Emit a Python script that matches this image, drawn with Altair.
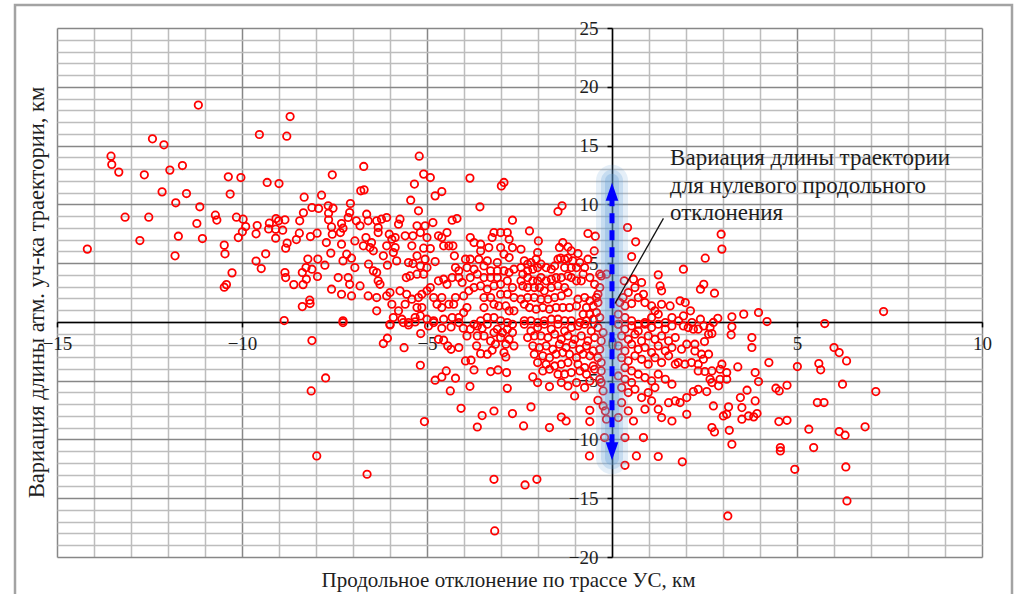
import altair as alt
import pandas as pd

# Scatter of trajectory-length variation vs. along-track deviation (km)
# Points grouped by the part of the field they fall in.

far_west = [
    (-11.18, 18.44), (-8.70, 17.47), (-9.53, 15.94), (-8.79, 15.80), (-12.42, 15.57), (-12.11, 15.06),
    (-13.54, 14.10), (-13.52, 13.39), (-13.33, 12.74), (-12.64, 12.51), (-11.95, 12.91), (-11.61, 13.30),
    (-10.37, 12.34), (-10.03, 12.28), (-9.32, 11.86), (-9.00, 11.77), (-12.16, 11.06), (-11.50, 10.92),
    (-10.32, 10.87), (-11.79, 10.13), (-11.14, 9.79), (-8.32, 10.61), (-7.85, 10.78), (-13.16, 8.91),
    (-12.52, 8.91), (-10.72, 9.08), (-10.68, 8.66), (-10.15, 8.91), (-9.97, 8.74), (-8.11, 9.73),
    (-7.93, 9.65), (-11.22, 8.37), (-9.90, 8.11), (-9.59, 8.20), (-9.26, 8.40), (-9.08, 8.79),
    (-9.01, 8.60), (-8.84, 8.68), (-9.28, 7.91), (-9.09, 7.89), (-8.90, 7.80), (-9.99, 7.66),
    (-9.62, 7.49), (-8.44, 8.60), (-8.34, 9.28), (-7.66, 9.25), (-7.66, 8.68), (-8.45, 7.55),
    (-8.15, 7.26), (-7.97, 7.55), (-8.53, 7.00), (-12.76, 6.92), (-11.72, 7.29), (-11.07, 7.09),
    (-10.10, 7.17), (-9.09, 7.12), (-8.78, 6.70), (-8.82, 6.27), (-10.48, 6.53), (-10.46, 5.79),
    (-14.18, 6.19), (-11.81, 5.62), (-7.60, 5.85), (-9.36, 5.79), (-9.62, 5.17), (-9.48, 4.54),
    (-8.22, 5.34), (-7.95, 5.34), (-7.76, 4.82), (-8.27, 4.62), (-8.11, 4.48), (-8.37, 4.20),
    (-7.96, 3.86), (-8.26, 3.63), (-8.84, 4.20), (-8.82, 3.77), (-10.27, 4.17), (-8.60, 3.17),
    (-8.35, 3.17), (-10.48, 2.95), (-10.42, 3.17), (-8.17, 1.85), (-8.86, 0.11), (-8.37, 1.30),
    (-8.16, 1.56), (-8.11, -1.59), (-7.74, -4.77), (-8.13, -5.87), (-7.98, -11.40),
]

west = [
    (-7.56, 12.51), (-5.09, 12.57), (-4.91, 12.28), (-3.84, 12.23), (-2.99, 11.57), (-2.92, 11.86),
    (-5.34, 11.72), (-6.79, 11.15), (-6.70, 11.23), (-4.78, 10.72), (-4.60, 11.09), (-5.44, 10.35),
    (-3.57, 9.79), (-7.07, 10.07), (-7.54, 9.67), (-7.67, 9.87), (-7.09, 9.30), (-6.63, 9.16),
    (-6.59, 8.60), (-7.13, 8.88), (-5.23, 9.45), (-4.19, 8.79), (-4.32, 8.65), (-4.84, 8.45),
    (-2.69, 8.65), (-5.73, 8.74), (-5.77, 8.31), (-6.09, 8.88), (-6.23, 8.74), (-6.36, 8.60),
    (-6.91, 8.60), (-6.81, 8.17), (-7.31, 8.37), (-7.27, 7.97), (-7.58, 8.08), (-7.56, 7.46),
    (-7.34, 7.60), (-7.72, 6.75), (-7.31, 6.61), (-6.95, 6.89), (-6.65, 7.18), (-6.72, 6.47),
    (-6.54, 6.32), (-6.50, 6.75), (-6.32, 7.60), (-6.32, 8.03), (-6.02, 7.46), (-5.95, 7.03),
    (-5.86, 7.18), (-6.09, 6.47), (-5.86, 6.32), (-5.91, 5.90), (-6.18, 5.62), (-6.07, 4.82),
    (-5.82, 5.19), (-5.59, 7.32), (-5.38, 7.32), (-5.41, 6.47), (-5.18, 7.60), (-5.05, 8.17),
    (-5.27, 8.17), (-5.00, 7.18), (-4.69, 7.32), (-4.60, 7.18), (-4.46, 7.60), (-4.55, 6.47),
    (-4.41, 6.47), (-4.30, 6.47), (-4.26, 5.62), (-5.09, 6.27), (-4.91, 6.24), (-5.05, 5.33),
    (-4.78, 5.13), (-5.27, 5.62), (-5.38, 4.96), (-5.18, 4.76), (-5.50, 5.05), (-5.56, 3.77),
    (-5.46, 3.91), (-5.27, 4.06), (-5.09, 4.06), (-5.00, 4.62), (-3.83, 7.18), (-3.73, 6.75),
    (-3.55, 6.61), (-3.19, 7.60), (-3.01, 7.60), (-2.83, 7.60), (-2.78, 7.03), (-3.24, 7.18),
    (-3.33, 6.32), (-3.55, 6.04), (-3.96, 5.33), (-3.83, 5.33), (-3.60, 5.33), (-3.37, 5.19),
    (-3.10, 5.05), (-3.01, 6.32), (-2.92, 5.76), (-2.78, 5.47), (-2.69, 6.32), (-3.92, 4.62),
    (-3.73, 4.48), (-3.46, 4.76), (-3.28, 4.34), (-3.10, 4.34), (-2.92, 4.34), (-2.78, 4.20),
    (-2.65, 4.48), (-4.23, 4.62), (-4.14, 4.34), (-4.14, 3.77), (-4.05, 3.35), (-4.32, 3.77),
    (-4.46, 3.20), (-4.55, 3.63), (-4.69, 3.49), (-4.91, 2.92), (-5.00, 2.64), (-5.14, 2.35),
    (-5.23, 2.07), (-5.41, 1.93), (-5.55, 2.35), (-5.73, 2.64), (-6.00, 2.50), (-6.09, 2.21),
    (-6.27, 3.20), (-6.32, 3.49), (-6.36, 4.20), (-6.45, 4.34), (-6.81, 3.06), (-7.09, 3.20),
    (-7.13, 3.77), (-7.40, 3.77), (-7.58, 2.78), (-7.31, 2.35), (-7.04, 2.21), (-6.59, 2.21),
    (-6.36, 2.07), (-6.36, 0.94), (-5.95, 1.50), (-5.77, 0.94), (-5.68, 0.23), (-5.91, 0.37),
    (-6.00, -0.20), (-5.50, -0.06), (-5.32, 0.37), (-5.18, 0.51), (-5.00, 0.23), (-4.82, 0.09),
    (-4.55, 0.23), (-4.32, 0.37), (-4.14, 0.37), (-4.01, 0.79), (-3.92, 1.22), (-4.28, 1.50),
    (-4.23, 2.07), (-4.01, 2.21), (-3.87, 2.64), (-3.73, 2.92), (-3.55, 3.06), (-3.37, 2.78),
    (-3.19, 3.06), (-3.01, 3.20), (-2.83, 3.49), (-2.69, 2.92), (-3.83, 3.77), (-3.64, 4.06),
    (-3.46, 3.77), (-3.28, 3.77), (-3.10, 3.77), (-3.01, 2.35), (-2.83, 2.35), (-2.65, 2.07),
    (-3.46, 2.07), (-3.28, 2.07), (-3.19, 1.50), (-3.06, 1.36), (-2.87, 1.36), (-2.78, 0.94),
    (-2.65, 0.94), (-3.46, 1.22), (-3.73, -0.20), (-3.55, 0.09), (-3.37, 0.37), (-3.19, 0.37),
    (-3.01, 0.09), (-2.83, -0.06), (-2.69, -0.20), (-7.27, 0.09), (-4.82, 2.07), (-4.60, 2.07),
    (-4.73, 1.50), (-4.60, 1.22), (-4.41, 1.50), (-5.14, 1.22), (-5.27, 1.22), (-5.59, 1.50),
    (-7.27, 5.19), (-7.17, 5.76), (-7.04, 5.42), (-6.95, 4.62), (-6.45, 6.05), (-6.58, 4.91),
    (-5.21, 14.10), (-6.71, 13.22),
]

north_centre = [
    (-1.46, 9.39), (-1.35, 9.87), (-2.23, 7.74), (-1.99, 6.89), (-2.46, 6.18), (-2.01, 5.90),
    (-2.05, 5.33), (-2.19, 5.05), (-2.28, 4.91), (-2.37, 5.19), (-2.46, 4.62), (-2.41, 4.06),
    (-2.28, 4.34), (-2.14, 4.48), (-2.01, 4.62), (-1.92, 4.91), (-1.78, 4.62), (-1.64, 4.48),
    (-1.55, 4.76), (-1.46, 5.33), (-1.39, 5.42), (-1.28, 5.33), (-1.19, 5.42), (-1.06, 5.19),
    (-1.10, 4.62), (-1.28, 4.62), (-1.42, 6.33), (-1.33, 6.75), (-1.19, 6.38), (-1.10, 6.04),
    (-0.92, 5.81), (-0.87, 5.05), (-0.96, 4.62), (-0.78, 4.06), (-0.83, 3.49), (-0.96, 3.49),
    (-1.10, 3.77), (-1.19, 3.91), (-1.37, 3.77), (-1.51, 3.77), (-1.64, 3.63), (-1.78, 3.49),
    (-1.92, 3.77), (-2.01, 3.49), (-2.14, 3.49), (-2.28, 3.77), (-2.46, 3.49), (-2.41, 3.06),
    (-2.28, 2.92), (-2.10, 2.92), (-1.96, 2.92), (-1.83, 2.64), (-1.64, 2.92), (-1.46, 3.06),
    (-1.28, 2.92), (-1.19, 2.50), (-1.37, 2.21), (-1.55, 2.07), (-1.73, 1.93), (-1.92, 1.93),
    (-2.10, 2.07), (-2.28, 2.07), (-2.46, 1.93), (-2.37, 1.50), (-2.23, 1.22), (-2.05, 1.08),
    (-1.87, 1.22), (-1.69, 1.08), (-1.51, 1.22), (-1.33, 1.22), (-1.15, 1.22), (-0.96, 1.36),
    (-0.92, 1.93), (-0.74, 2.07), (-0.60, 1.79), (-0.42, 2.07), (-0.38, 1.64), (-0.51, 1.36),
    (-0.69, 1.22), (-0.78, 0.65), (-0.60, 0.65), (-0.42, 0.79), (-0.33, 0.37), (-0.51, 0.23),
    (-0.69, 0.09), (-0.87, -0.06), (-1.10, 0.09), (-1.28, 0.09), (-1.46, 0.23), (-1.64, 0.23),
    (-1.83, 0.09), (-2.01, -0.06), (-2.19, 0.09), (-2.37, 0.09), (-0.65, 7.52), (-0.45, 7.29),
    (-0.48, 6.04), (-0.65, 5.33), (-0.74, 4.62), (-0.60, 3.77), (-0.47, 3.20), (-0.33, 2.92),
    (-0.38, 2.35), (-0.29, 3.91), (-0.15, 4.06), (-0.33, 4.06), (0.42, 8.03), (0.64, 6.81),
    (0.53, 5.56), (0.33, 3.49), (0.58, 3.63), (0.80, 3.35), (0.62, 2.92), (0.44, 2.50),
    (0.30, 2.07), (0.21, 1.64), (0.35, 1.36), (0.53, 1.56), (0.71, 2.07), (0.85, 2.35),
    (0.89, 1.64), (1.07, 1.36), (1.16, 0.94), (1.07, 0.37), (0.89, -0.06), (0.71, -0.20),
    (0.53, 0.09), (0.35, 0.37), (0.17, 0.65), (0.17, -0.20), (1.44, -0.06), (1.25, 0.65),
    (1.34, 1.50), (1.57, 1.36), (1.84, 1.79), (1.98, 1.64), (2.12, 0.94), (1.93, 0.51),
    (1.80, 0.09), (1.62, 0.37), (2.16, -0.06), (2.39, 0.23), (2.48, -0.34), (1.25, 4.00),
    (1.30, 3.06), (1.34, 2.64), (1.93, 4.48), (2.39, 2.78), (2.48, 3.20), (2.52, 5.42),
    (2.95, 7.46), (2.97, 6.19), (2.77, 2.44),
]

south_west = [
    (-7.27, -0.06), (-6.00, -0.26), (-5.64, -0.06), (-5.50, -0.26), (-5.32, 0.00), (-5.17, -0.99),
    (-4.96, -0.34), (-4.82, -0.06), (-4.60, -0.54), (-4.35, -0.43), (-4.14, -0.06), (-4.02, -0.54),
    (-3.92, -1.19), (-3.83, -0.62), (-3.64, -0.34), (-3.51, -0.54), (-3.64, -1.19), (-3.37, -0.20),
    (-3.19, -0.91), (-3.10, -0.62), (-2.96, -0.91), (-2.83, -0.62), (-2.69, -0.91), (-2.78, -1.48),
    (-2.65, -2.04), (-3.01, -1.33), (-2.87, -1.90), (-3.15, -1.90), (-3.28, -1.62), (-3.46, -1.19),
    (-6.18, -1.84), (-6.07, -1.39), (-5.62, -2.19), (-4.69, -1.48), (-4.55, -1.56), (-4.44, -2.04),
    (-4.35, -2.33), (-4.14, -2.18), (-3.66, -2.04), (-3.55, -2.70), (-3.37, -2.75), (-3.24, -2.41),
    (-2.92, -2.61), (-2.87, -2.98), (-5.18, -3.69), (-3.96, -3.32), (-3.81, -3.26), (-3.73, -4.09),
    (-3.28, -4.23), (-3.08, -4.09), (-2.85, -4.31), (-4.48, -4.17), (-4.60, -4.68), (-4.78, -4.96),
    (-4.23, -4.79), (-4.37, -5.87), (-3.84, -5.48), (-2.83, -5.65), (-4.08, -7.35), (-3.51, -7.97),
    (-3.19, -7.58), (-2.69, -7.80), (-3.64, -8.94), (-5.07, -8.48), (-6.62, -12.96), (-3.19, -13.39),
    (-2.35, -13.87), (-2.03, -13.39), (-3.17, -17.78),
]

south_centre = [
    (-2.37, -0.20), (-2.19, -0.77), (-2.01, -0.48), (-1.83, -0.20), (-1.64, -0.62), (-1.46, -0.20),
    (-1.28, -0.77), (-1.10, -0.48), (-0.92, -0.34), (-0.74, -0.20), (-0.56, -0.77), (-0.38, -0.48),
    (-0.24, -0.91), (-2.28, -1.33), (-2.10, -1.19), (-1.92, -1.19), (-1.73, -1.33), (-1.55, -1.05),
    (-1.37, -1.48), (-1.19, -1.19), (-1.01, -1.48), (-0.83, -1.19), (-0.65, -1.62), (-0.47, -1.33),
    (-0.29, -1.62), (-2.14, -2.04), (-1.96, -2.18), (-1.78, -2.04), (-1.60, -2.33), (-1.42, -1.90),
    (-1.24, -2.18), (-1.06, -1.90), (-0.87, -2.33), (-0.69, -2.04), (-0.51, -2.47), (-0.33, -2.33),
    (-2.10, -2.75), (-1.87, -2.89), (-1.69, -3.04), (-1.51, -2.75), (-1.33, -2.61), (-1.15, -2.75),
    (-0.96, -3.04), (-0.78, -2.75), (-0.60, -2.89), (-0.38, -3.04), (-2.01, -3.46), (-1.78, -3.60),
    (-1.55, -3.75), (-1.37, -3.60), (-1.19, -3.46), (-0.92, -3.60), (-0.74, -3.89), (-0.51, -3.75),
    (-0.29, -3.46), (-1.87, -4.17), (-1.69, -4.03), (-1.46, -4.45), (-1.28, -4.45), (-1.10, -4.31),
    (-0.87, -4.17), (-0.69, -4.45), (-0.47, -4.03), (-0.29, -4.17), (-2.14, -4.68), (-2.01, -5.16),
    (-1.69, -5.50), (-1.37, -5.16), (-1.19, -5.45), (-0.96, -5.16), (-0.74, -5.59), (-0.60, -5.02),
    (-0.33, -4.88), (-1.01, -6.30), (-0.38, -6.67), (-0.24, -5.87), (-2.19, -7.23), (-0.60, -7.52),
    (-1.37, -8.09), (-1.24, -8.43), (-2.39, -8.85), (-1.69, -8.99), (-0.60, -8.48), (-0.18, -7.57),
    (-0.15, -8.28), (-0.24, -7.15), (-0.20, -9.84), (-0.29, -5.16), (0.17, -0.20), (0.35, -0.62),
    (0.53, -0.34), (0.71, -0.77), (0.89, -0.20), (1.07, -0.48), (1.25, -0.20), (1.44, -0.62),
    (1.62, -0.34), (0.26, -1.19), (0.44, -1.48), (0.62, -1.05), (0.80, -1.62), (0.98, -1.19),
    (1.16, -1.48), (1.34, -1.19), (1.53, -1.62), (1.71, -1.33), (0.17, -2.04), (0.35, -2.47),
    (0.53, -1.90), (0.71, -2.33), (0.89, -2.18), (1.07, -2.61), (1.25, -2.04), (1.44, -2.47),
    (1.62, -2.18), (0.26, -3.04), (0.44, -3.32), (0.62, -2.89), (0.80, -3.18), (0.98, -3.60),
    (1.16, -3.04), (1.34, -3.46), (1.53, -2.89), (1.71, -3.60), (0.35, -3.89), (0.53, -4.17),
    (0.17, -4.60), (0.35, -4.88), (0.53, -5.16), (0.71, -4.45), (0.89, -4.74), (1.07, -5.02),
    (1.25, -4.45), (1.44, -4.88), (1.62, -5.30), (0.26, -5.59), (0.44, -6.01), (0.62, -5.73),
    (0.80, -6.44), (0.98, -6.01), (1.16, -5.59), (1.07, -6.72), (0.89, -7.43), (1.25, -7.43),
    (1.53, -6.87), (1.71, -6.72), (0.26, -6.87), (0.44, -7.57), (0.58, -8.43), (0.35, -9.84),
    (0.85, -9.84), (1.34, -8.14), (1.62, -8.43), (0.17, -8.14), (-0.61, -11.40), (0.66, -11.40),
    (1.25, -11.45), (1.90, -11.90), (0.35, -12.20), (3.13, -16.51),
]

east = [
    (7.34, 0.88), (5.75, -0.14), (4.19, 0.03), (3.96, 0.80), (3.56, 0.66), (3.24, 0.43),
    (3.24, -0.42), (3.22, -1.10), (3.78, -1.33), (3.78, -2.18), (2.86, 0.31), (2.74, -0.05),
    (2.65, -0.48), (2.61, -1.05), (2.70, -0.99), (2.50, -1.67), (2.33, -0.62), (2.20, -0.62),
    (2.06, -0.48), (1.93, -0.34), (2.02, -1.90), (2.24, -1.90), (1.88, -2.32), (2.24, -2.47),
    (2.42, -2.75), (2.61, -2.75), (2.47, -3.17), (2.33, -3.60), (2.15, -3.46), (1.97, -3.60),
    (1.79, -3.46), (2.33, -4.17), (2.51, -4.22), (2.70, -4.17), (2.92, -4.03), (2.97, -3.60),
    (3.10, -4.31), (3.10, -4.88), (2.92, -4.88), (2.88, -5.44), (2.70, -5.16), (2.65, -4.88),
    (2.56, -5.93), (2.33, -5.73), (2.20, -5.93), (2.02, -6.44), (1.84, -6.86), (2.02, -7.86),
    (2.74, -7.15), (3.01, -8.00), (3.15, -7.23), (3.10, -7.86), (3.51, -7.29), (3.47, -6.44),
    (3.65, -5.81), (3.51, -8.28), (3.69, -8.00), (3.83, -8.08), (3.92, -7.80), (3.87, -6.72),
    (3.40, -3.83), (4.24, -3.46), (3.87, -4.31), (3.96, -5.08), (2.70, -8.99), (2.77, -9.36),
    (3.17, -9.22), (3.24, -10.41), (4.51, -8.48), (4.73, -8.37), (4.55, -10.69), (4.55, -10.98),
    (5.01, -3.80), (5.59, -3.54), (5.64, -4.08), (6.00, -2.18), (6.14, -2.61), (6.34, -3.32),
    (6.23, -5.30), (7.13, -5.93), (5.55, -6.86), (5.73, -6.86), (4.43, -5.64), (4.52, -5.87),
    (4.73, -5.39), (5.32, -9.13), (6.14, -9.33), (6.30, -9.64), (6.84, -8.93), (5.45, -10.69),
    (4.94, -12.54), (6.32, -12.34), (6.35, -15.23),
]

points_all = far_west + west + north_centre + south_west + south_centre + east
pts = pd.DataFrame(points_all, columns=["dx", "dl"])

# Axis extents and tick values
X_DOMAIN = [-15, 10]
Y_DOMAIN = [-20, 25]
X_LABELS = [-15, -10, -5, 0, 5, 10]
Y_LABELS = [-20, -15, -10, -5, 0, 5, 10, 15, 20, 25]
X_GRID = list(range(-15, 11))
Y_GRID = list(range(-20, 26))

# Zero-deviation arrow and its callout
arrow_shaft = pd.DataFrame({"dx": [0.0], "lo": [-10.4], "hi": [10.4]})
arrow_glow = pd.DataFrame({"dx": [0.0], "lo": [-11.6], "hi": [12.0]})
head_up = pd.DataFrame({"dx": [0.0], "dl": [11.06]})
head_down = pd.DataFrame({"dx": [0.0], "dl": [-11.0]})
callout_lines = ["Вариация длины траектории", "для нулевого продольного", "отклонения"]
callout = pd.DataFrame({"dx": [1.57, 1.57, 1.57], "dl": [13.93, 11.6, 9.3], "txt": callout_lines})
leader = pd.DataFrame({"dx": [1.39, 0.08], "dl": [8.8, 1.56]})

W, H = 925, 529
FONT = "Liberation Serif"
xs = alt.Scale(domain=X_DOMAIN, nice=False, zero=False)
ys = alt.Scale(domain=Y_DOMAIN, nice=False, zero=False)
grid_color = {"condition": {"test": "datum.value % 5 === 0", "value": "#878787"}, "value": "#bdbdbd"}

scatter = alt.Chart(pts).mark_point(
    shape="circle", filled=False, color="#ff0000", size=55, strokeWidth=1.8, opacity=1
).encode(
    x=alt.X("dx:Q", scale=xs, axis=alt.Axis(
        orient="bottom", values=X_GRID, grid=True, gridColor=grid_color, gridWidth=1.5,
        labels=False, ticks=False, domain=False,
        title="Продольное отклонение по трассе УС, км", titleX=451, titleY=29,
        titleAlign="center", titleBaseline="alphabetic", titleFont=FONT, titleFontSize=21,
        titleFontWeight="normal", titleColor="#1e1e1e")),
    y=alt.Y("dl:Q", scale=ys, axis=alt.Axis(
        orient="left", values=Y_GRID, grid=True, gridColor=grid_color, gridWidth=1.5,
        labels=False, ticks=False, domain=False,
        title="Вариация длины атм. уч-ка траектории, км", titleX=-14, titleY=264,
        titleAngle=270, titleAlign="center", titleBaseline="alphabetic", titleFont=FONT,
        titleFontSize=22.5, titleFontWeight="normal", titleColor="#1e1e1e")),
)

glow_layers = []
for width, alpha in [(32, 0.16), (22, 0.22), (14, 0.28)]:
    glow_layers.append(
        alt.Chart(arrow_glow).mark_rule(color="#5b9bd5", strokeWidth=width, opacity=alpha, strokeCap="round").encode(
            x=alt.X("dx:Q", scale=xs, axis=None),
            y=alt.Y("lo:Q", scale=ys, axis=None),
            y2="hi:Q",
        )
    )

shaft = alt.Chart(arrow_shaft).mark_rule(color="#0000ff", strokeWidth=5, strokeDash=[10, 7]).encode(
    x=alt.X("dx:Q", scale=xs, axis=None),
    y=alt.Y("lo:Q", scale=ys, axis=None),
    y2="hi:Q",
)

up = alt.Chart(head_up).mark_point(shape="M0,-1L0.7,1L-0.7,1Z", filled=True, color="#0000ff", size=324, opacity=1).encode(
    x=alt.X("dx:Q", scale=xs, axis=None), y=alt.Y("dl:Q", scale=ys, axis=None))
down = alt.Chart(head_down).mark_point(shape="M0,1L0.7,-1L-0.7,-1Z", filled=True, color="#0000ff", size=324, opacity=1).encode(
    x=alt.X("dx:Q", scale=xs, axis=None), y=alt.Y("dl:Q", scale=ys, axis=None))

label = alt.Chart(callout).mark_text(align="left", baseline="middle", font=FONT, fontSize=23, color="#1e1e1e").encode(
    x=alt.X("dx:Q", scale=xs, axis=None), y=alt.Y("dl:Q", scale=ys, axis=None), text="txt:N")

pointer = alt.Chart(leader).mark_line(color="#111111", strokeWidth=1.3).encode(
    x=alt.X("dx:Q", scale=xs, axis=alt.Axis(
        orient="bottom", values=X_LABELS, offset=-(H * 20 / 45), grid=False,
        domain=True, domainColor="#000000", domainWidth=1.5,
        ticks=True, tickColor="#000000", tickSize=5, tickWidth=1.5,
        labelFont=FONT, labelFontSize=19, labelColor="#1e1e1e", labelPadding=8,
        labelBaseline="top", labelFlush=False, labelOverlap=False, title=None)),
    y=alt.Y("dl:Q", scale=ys, axis=alt.Axis(
        orient="left", values=Y_LABELS, offset=-(W * 15 / 25), grid=False,
        domain=True, domainColor="#000000", domainWidth=1.5,
        ticks=True, tickColor="#000000", tickSize=5, tickWidth=1.5,
        labelFont=FONT, labelFontSize=19, labelColor="#1e1e1e", labelPadding=9,
        labelFlush=False, labelOverlap=False, title=None)),
)

frame = alt.Chart(pd.DataFrame({"k": [0]})).mark_rect(
    fillOpacity=0, stroke="#a3a3a3", strokeWidth=2.5
).encode(x=alt.value(-42), x2=alt.value(955), y=alt.value(-23), y2=alt.value(585))

chart = alt.layer(
    frame, scatter, *glow_layers, shaft, up, down, label, pointer
).resolve_axis(
    x="independent", y="independent"
).properties(
    width=W, height=H,
    autosize=alt.AutoSizeParams(type="none"),
    padding={"left": 57, "top": 28, "right": 38, "bottom": 37},
    background="#ffffff",
).configure_view(strokeWidth=0)

chart.save("out.html", embed_options={"renderer": "svg", "actions": False})
